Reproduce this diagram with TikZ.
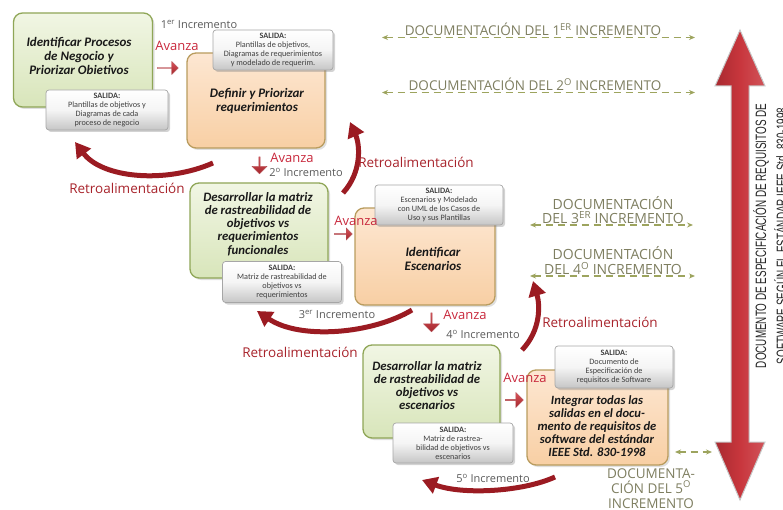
\documentclass[tikz,border=0pt]{standalone}
\usepackage{fontspec}
\usepackage{graphicx}
\setmainfont{Carlito}
\newfontfamily\osans{Open Sans}
\newfontfamily\lsans{Liberation Sans}
\usetikzlibrary{arrows.meta,shapes.arrows,shadows}
\definecolor{avz}{HTML}{C8283C}
\definecolor{retro}{HTML}{A8242C}
\definecolor{rarrow}{HTML}{9B1B22}
\definecolor{incg}{HTML}{5A5A5A}
\definecolor{docc}{HTML}{7E7E60}
\definecolor{docl}{HTML}{9DA45E}
\definecolor{grnA}{HTML}{F1F6E4}
\definecolor{grnB}{HTML}{D8E5BA}
\definecolor{grnD}{HTML}{8FA657}
\definecolor{orA}{HTML}{FDE7D2}
\definecolor{orB}{HTML}{F8CFA4}
\definecolor{orD}{HTML}{B99C5E}
\definecolor{bigr}{HTML}{C8363D}
\definecolor{bigrd}{HTML}{A82A30}
\definecolor{blkA}{HTML}{D9535A}
\definecolor{blkB}{HTML}{A3262C}
\begin{document}
\begin{tikzpicture}[x=1pt,y=-1pt,
  greenbox/.style={draw=grnD, line width=1.3pt, rounded corners=9pt, top color=grnA, bottom color=grnB,
     drop shadow={opacity=0.25, shadow xshift=2pt, shadow yshift=-2pt}},
  orangebox/.style={draw=orD, line width=1.3pt, rounded corners=9pt, top color=orA, bottom color=orB,
     drop shadow={opacity=0.25, shadow xshift=2pt, shadow yshift=-2pt}},
  salida/.style={draw=gray!70, line width=0.7pt, rounded corners=3pt, top color=white, bottom color=gray!45,
     middle color=gray!8, align=center, inner sep=1pt, font=\fontsize{8.2}{9}\selectfont, text=black!75,
     drop shadow={opacity=0.35, shadow xshift=2pt, shadow yshift=-2pt}},
  boxtext/.style={align=center, font=\bfseries\itshape\fontsize{13}{14}\selectfont, text=black!90, inner sep=0pt},
  avlabel/.style={font=\osans\fontsize{13}{13}\selectfont, text=avz, inner sep=0pt},
  retlabel/.style={font=\osans\fontsize{13.5}{13.5}\selectfont, text=retro, inner sep=0pt},
  inclabel/.style={font=\osans\fontsize{11}{11}\selectfont, text=incg, inner sep=0pt},
  doclabel/.style={font=\osans\fontsize{14}{14.5}\selectfont, text=docc, align=center, inner sep=0pt},
  docline/.style={draw=docl, line width=1.1pt, dash pattern=on 7pt off 5pt,
     {Stealth[length=6pt,width=5pt]}-{Stealth[length=6pt,width=5pt]}},
  retroarrow/.style={draw=rarrow, line width=5pt, -{Triangle[width=17pt,length=15pt]}},
  blockarrow/.style={single arrow, draw=blkB!80, line width=0.4pt, top color=blkA, bottom color=blkB,
     single arrow head extend=2.5pt, inner sep=0pt, minimum width=13pt}
]
\useasboundingbox (0,0) rectangle (783,510);

% ---------- process boxes ----------
\node[greenbox, minimum width=139pt, minimum height=94pt] (b1) at (83,60) {};
\node[boxtext] (t1) at (79,56) {Identificar Procesos\\de Negocio y\\Priorizar Obietivos};
\node[salida, minimum width=122pt, minimum height=40pt] (s1) at (107,110) {\textbf{SALIDA:}\\Plantillas de objetivos y\\Diagramas de cada\\proceso de negocio};

\node[orangebox, minimum width=138pt, minimum height=95pt] (b2) at (256,100.5) {};
\node[boxtext] (t2) at (257,101) {Definir y Priorizar\\requerimientos};
\node[salida, minimum width=120pt, minimum height=40pt] (s2) at (273,50) {\textbf{SALIDA:}\\Plantillas de objetivos,\\Diagramas de requerimientos\\y modelado de requerim.};

\node[greenbox, minimum width=138pt, minimum height=95pt] (b3) at (259,230.5) {};
\node[boxtext, font=\bfseries\itshape\fontsize{12.8}{13.2}\selectfont] (t3) at (258,224) {Desarrollar la matriz\\de rastreabilidad de\\objetivos vs\\requerimientos\\funcionales};
\node[salida, minimum width=119pt, minimum height=41pt] (s3) at (282,282) {\textbf{SALIDA:}\\Matriz de rastreabilidad de\\objetivos vs\\requerimientos};

\node[orangebox, minimum width=140pt, minimum height=97pt] (b4) at (425,256.5) {};
\node[boxtext] (t4) at (433,259) {Identificar\\Escenarios};
\node[salida, minimum width=128pt, minimum height=40pt] (s4) at (439,205) {\textbf{SALIDA:}\\Escenarios y Modelado\\con UML de los Casos de\\Uso y sus Plantillas};

\node[greenbox, minimum width=137pt, minimum height=93pt] (b5) at (431.5,391.5) {};
\node[boxtext, font=\bfseries\itshape\fontsize{12.8}{13}\selectfont] (t5) at (427,386) {Desarrollar la matriz\\de rastreabilidad de\\objetivos vs\\escenarios};
\node[salida, minimum width=120pt, minimum height=40pt] (s5) at (453,443) {\textbf{SALIDA:}\\Matriz de rastrea-\\bilidad de objetivos vs\\escenarios};

\node[orangebox, minimum width=141pt, minimum height=95pt] (b6) at (597.5,417.5) {};
\node[boxtext, font=\bfseries\itshape\fontsize{12.6}{13}\selectfont] (t6) at (597,426) {Integrar todas las\\salidas en el docu-\\mento de requisitos de\\software del estándar\\IEEE Std. 830-1998};
\node[salida, minimum width=118pt, minimum height=42pt] (s6) at (614,367) {\textbf{SALIDA:}\\Documento de\\Especificación de\\requisitos de Software};

% ---------- Avanza block arrows ----------
\node[blockarrow, minimum height=21pt] (a1) at (167.5,68) {};
\node[blockarrow, minimum height=17pt, minimum width=15pt, shape border rotate=270] (a2) at (259.5,165) {};
\node[blockarrow, minimum height=18pt, minimum width=12pt] (a3) at (343,234) {};
\node[blockarrow, minimum height=19pt, minimum width=16pt, shape border rotate=270] (a4) at (431.5,322) {};
\node[blockarrow, minimum height=18pt, minimum width=15pt] (a5) at (514,400) {};

\node[avlabel] (av1) at (177,46) {Avanza};
\node[avlabel] (av2) at (292,158) {Avanza};
\node[avlabel] (av3) at (356,221) {Avanza};
\node[avlabel] (av4) at (465,315) {Avanza};
\node[avlabel] (av5) at (525,378) {Avanza};

\node[inclabel] (i1) at (199,24) {1\textsuperscript{er} Incremento};
\node[inclabel] (i2) at (306,172) {2\textsuperscript{o} Incremento};
\node[inclabel] (i3) at (337,314) {3\textsuperscript{er} Incremento};
\node[inclabel] (i4) at (483,334) {4\textsuperscript{o} Incremento};
\node[inclabel] (i5) at (493,478) {5\textsuperscript{o} Incremento};

% ---------- Retroalimentacion arrows ----------
\coordinate (r1s) at (213,163); \coordinate (r1e) at (75,142);
\coordinate (r2s) at (343,193); \coordinate (r2e) at (350,122);
\coordinate (r3s) at (412,310); \coordinate (r3e) at (257,311);
\coordinate (r4s) at (522,350); \coordinate (r4e) at (533,281);
\coordinate (r5s) at (555,477); \coordinate (r5e) at (422,480);
\draw[retroarrow] (r1s) .. controls (165,184) and (102,178) .. (r1e);
\draw[retroarrow] (r2s) .. controls (362,172) and (360,145) .. (r2e);
\draw[retroarrow] (r3s) .. controls (372,334) and (300,340) .. (r3e);
\draw[retroarrow] (r4s) .. controls (541,330) and (540,305) .. (r4e);
\draw[retroarrow] (r5s) .. controls (522,492) and (462,495) .. (r5e);

\node[retlabel] (l1) at (127,188) {Retroalimentación};
\node[retlabel] (l2) at (416,162) {Retroalimentación};
\node[retlabel] (l3) at (300,352) {Retroalimentación};
\node[retlabel] (l4) at (600,322) {Retroalimentación};

% ---------- documentation ----------
\coordinate (d1a) at (382,37.5); \coordinate (d1b) at (695,37.5);
\coordinate (d2a) at (382,92.5); \coordinate (d2b) at (695,92.5);
\coordinate (d3a) at (530,225); \coordinate (d3b) at (693,225);
\coordinate (d4a) at (530,276); \coordinate (d4b) at (695,276);
\coordinate (d5a) at (675,452); \coordinate (d5b) at (712,452);
\draw[docline] (d1a) -- (d1b);
\draw[docline] (d2a) -- (d2b);
\draw[docline] (d3a) -- (d3b);
\draw[docline] (d4a) -- (d4b);
\draw[docline] (d5a) -- (d5b);
\node[doclabel, font=\osans\fontsize{13.5}{14}\selectfont, anchor=base] (doc1) at (533,36) {DOCUMENTACIÓN DEL 1\textsuperscript{ER} INCREMENTO};
\node[doclabel, font=\osans\fontsize{13.5}{14}\selectfont, anchor=base] (doc2) at (535,91) {DOCUMENTACIÓN DEL 2\textsuperscript{O} INCREMENTO};
\node[doclabel, anchor=base] (doc3) at (613,224) {DOCUMENTACIÓN\\DEL 3\textsuperscript{ER} INCREMENTO};
\node[doclabel, anchor=base] (doc4) at (613,274.5) {DOCUMENTACIÓN\\DEL 4\textsuperscript{O} INCREMENTO};
\node[doclabel, anchor=base, font=\osans\fontsize{13.5}{15}\selectfont] (doc5) at (651,508) {DOCUMENTA-\\CIÓN DEL 5\textsuperscript{O}\\INCREMENTO};

% ---------- big vertical double arrow ----------
\draw[draw=gray!45, line width=1pt, left color=bigrd, right color=bigr!85, middle color=bigr]
  (740,30) -- (765,86) -- (749,86) -- (749,442) -- (765,442) -- (740,500) -- (715,442)
  -- (731,442) -- (731,86) -- (715,86) -- cycle;
\node[rotate=90, align=center, inner sep=0pt, text=black!85] (vt) at (772.5,236)
  {\scalebox{0.66}[1]{\lsans\fontsize{15}{21}\selectfont\begin{tabular}{@{}c@{}}DOCUMENTO DE ESPECIFICACIÓN DE REQUISITOS DE\\SOFTWARE SEGÚN EL ESTÁNDAR IEEE Std. 830-1998\end{tabular}}};
\end{tikzpicture}
\end{document}
